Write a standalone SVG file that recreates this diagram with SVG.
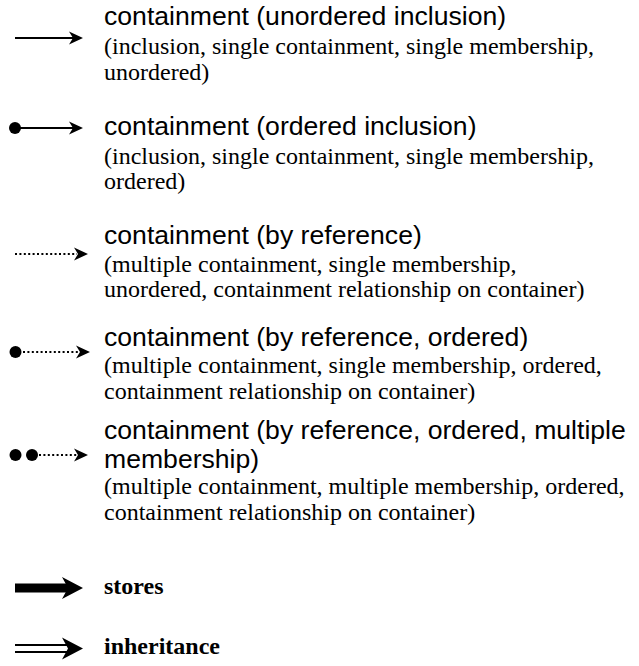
<svg xmlns="http://www.w3.org/2000/svg" width="639" height="666" viewBox="0 0 639 666">
  <style>
    .title { font-family: "Liberation Sans", Arial, sans-serif; font-size: 26.6px; fill: #000; }
    .desc { font-family: "Liberation Serif", "Times New Roman", serif; font-size: 24px; fill: #000; }
    .bold { font-family: "Liberation Serif", "Times New Roman", serif; font-size: 24px; font-weight: bold; fill: #000; }
    .solid { stroke: #000; stroke-width: 2.2; fill: none; }
    .dotted { stroke: #000; stroke-width: 2; fill: none; stroke-dasharray: 2 2.4; }
    .head { fill: #000; stroke: none; }
    .dot { fill: #000; }
  </style>
  <defs>
    <!-- notched arrowhead, tip at origin pointing right -->
    <path id="head" d="M0,0 L-14,-6.5 L-10,0 L-14,6.5 Z"/>
    <path id="bighead" d="M0,0 L-21,-11 L-15,0 L-21,11 Z"/>
  </defs>

  <g id="connectors">
    <!-- unordered inclusion -->
    <g id="arrow-unordered">
      <line class="solid" x1="15" y1="38" x2="74" y2="38"/>
      <use href="#head" class="head" x="83" y="38"/>
    </g>
    <!-- ordered inclusion -->
    <g id="arrow-ordered">
      <circle class="dot" cx="15" cy="128" r="6"/>
      <line class="solid" x1="15" y1="128" x2="74" y2="128"/>
      <use href="#head" class="head" x="83" y="128"/>
    </g>
    <!-- by reference -->
    <g id="arrow-reference">
      <line class="dotted" x1="15" y1="254" x2="77" y2="254"/>
      <use href="#head" class="head" x="88" y="254"/>
    </g>
    <!-- by reference, ordered -->
    <g id="arrow-reference-ordered">
      <circle class="dot" cx="15.5" cy="352" r="6"/>
      <line class="dotted" x1="23" y1="352" x2="80" y2="352"/>
      <use href="#head" class="head" x="90" y="352"/>
    </g>
    <!-- by reference, ordered, multiple membership -->
    <g id="arrow-reference-multiple">
      <circle class="dot" cx="15.5" cy="455" r="6"/>
      <circle class="dot" cx="32" cy="455" r="6"/>
      <line class="dotted" x1="39" y1="455" x2="78" y2="455"/>
      <use href="#head" class="head" x="88" y="455"/>
    </g>
    <!-- stores -->
    <g id="arrow-stores">
      <rect x="15" y="583.5" width="54" height="9" fill="#000"/>
      <use href="#bighead" class="head" x="83" y="588"/>
    </g>
    <!-- inheritance -->
    <g id="arrow-inheritance">
      <line class="solid" x1="15" y1="645" x2="72" y2="645"/>
      <line class="solid" x1="15" y1="652" x2="72" y2="652"/>
      <use href="#bighead" class="head" x="83" y="648.5"/>
    </g>
  </g>

  <g id="legend-unordered">
    <text class="title" x="104" y="25">containment (unordered inclusion)</text>
    <text class="desc" x="104" y="54">(inclusion, single containment, single membership,<tspan x="104" dy="26">unordered)</tspan></text>
  </g>
  <g id="legend-ordered">
    <text class="title" x="104" y="135">containment (ordered inclusion)</text>
    <text class="desc" x="104" y="164">(inclusion, single containment, single membership,<tspan x="104" dy="25">ordered)</tspan></text>
  </g>
  <g id="legend-reference">
    <text class="title" x="104" y="244">containment (by reference)</text>
    <text class="desc" x="104" y="272">(multiple containment, single membership,<tspan x="104" dy="25">unordered, containment relationship on container)</tspan></text>
  </g>
  <g id="legend-reference-ordered">
    <text class="title" x="104" y="346">containment (by reference, ordered)</text>
    <text class="desc" x="104" y="373">(multiple containment, single membership, ordered,<tspan x="104" dy="26">containment relationship on container)</tspan></text>
  </g>
  <g id="legend-reference-multiple">
    <text class="title" x="104" y="439">containment (by reference, ordered, multiple<tspan x="104" dy="29">membership)</tspan></text>
    <text class="desc" x="104" y="494">(multiple containment, multiple membership, ordered,<tspan x="104" dy="26">containment relationship on container)</tspan></text>
  </g>
  <g id="legend-stores">
    <text class="bold" x="104" y="594">stores</text>
  </g>
  <g id="legend-inheritance">
    <text class="bold" x="104" y="654">inheritance</text>
  </g>
</svg>
